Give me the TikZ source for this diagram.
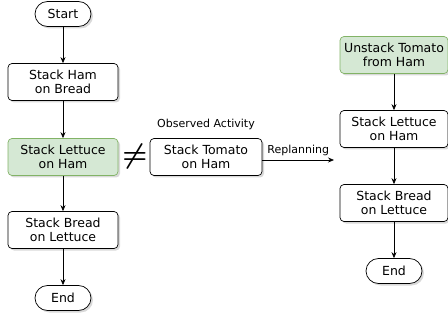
\documentclass[tikz,border=0pt]{standalone}
\usepackage{fontspec}
\setmainfont{DejaVu Sans}
\usetikzlibrary{shadows,arrows.meta}

\definecolor{plangreen}{HTML}{D5E8D4}
\definecolor{plangreenline}{HTML}{82B366}

\begin{document}
\begin{tikzpicture}[x=1pt,y=-1pt,
    stepbox/.style={draw, line width=0.7pt, rounded corners=4pt, fill=white,
        minimum width=110pt, minimum height=37pt, align=center, inner sep=1pt,
        font=\fontsize{12.5}{14.5}\selectfont,
        drop shadow={shadow xshift=2pt, shadow yshift=-2pt, opacity=0.3}},
    changedbox/.style={stepbox, fill=plangreen, draw=plangreenline},
    terminal/.style={draw, line width=0.7pt, rounded corners=12.5pt, fill=white,
        minimum width=56pt, minimum height=25pt, inner sep=1pt,
        font=\fontsize{12.5}{14.5}\selectfont,
        drop shadow={shadow xshift=2pt, shadow yshift=-2pt, opacity=0.3}},
    flow/.style={-{Stealth[length=6pt,width=5pt]}, line width=0.7pt},
    note/.style={font=\fontsize{11}{13}\selectfont}]

    \useasboundingbox (0,0) rectangle (448,321);

    % original plan on the left
    \node[terminal] (start) at (63,14) {Start};
    \node[stepbox] (ham) at (63,82) {Stack Ham\\on Bread};
    \node[changedbox] (lettuce) at (63,157) {Stack Lettuce\\on Ham};
    \node[stepbox] (bread) at (63,230) {Stack Bread\\on Lettuce};
    \node[terminal] (end) at (63,298) {End};

    \draw[flow] (start) -- (ham);
    \draw[flow] (ham) -- (lettuce);
    \draw[flow] (lettuce) -- (bread);
    \draw[flow] (bread) -- (end);

    % observed activity in the middle
    \node[inner sep=0pt] (neq) at (135,157) {\scalebox{2.8}{\boldmath$\neq$}};
    \node[stepbox, minimum width=112pt] (tomato) at (206,157) {Stack Tomato\\on Ham};
    \node[note] (observed) at (206,124) {Observed Activity};

    \coordinate (replan) at (334,160);
    \draw[flow] (tomato.east |- replan) -- node[note, above=1pt] {Replanning} (replan);

    % new plan on the right
    \node[changedbox, minimum width=108pt] (unstack) at (394,55) {Unstack Tomato\\from Ham};
    \node[stepbox, minimum width=108pt] (lettuce2) at (394,129) {Stack Lettuce\\on Ham};
    \node[stepbox, minimum width=108pt] (bread2) at (394,203) {Stack Bread\\on Lettuce};
    \node[terminal] (end2) at (394,271) {End};

    \draw[flow] (unstack) -- (lettuce2);
    \draw[flow] (lettuce2) -- (bread2);
    \draw[flow] (bread2) -- (end2);

\end{tikzpicture}
\end{document}
